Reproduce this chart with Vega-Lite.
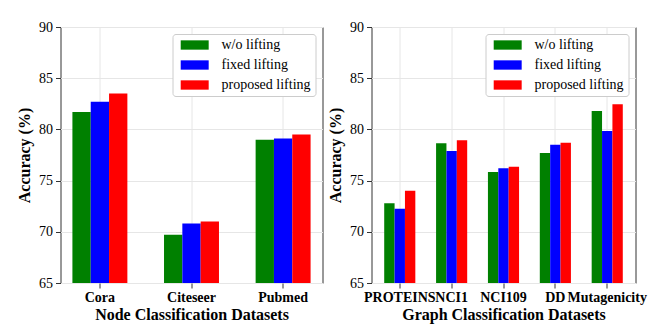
{
  "$schema": "https://vega.github.io/schema/vega-lite/v6.json",
  "padding": {"left": 15.5, "top": 19, "right": 5, "bottom": 5},
  "spacing": 3,
  "datasets": {
    "node": [
      {"dataset": "Cora", "method": "w/o lifting", "accuracy": 81.7},
      {"dataset": "Cora", "method": "fixed lifting", "accuracy": 82.7},
      {"dataset": "Cora", "method": "proposed lifting", "accuracy": 83.5},
      {"dataset": "Citeseer", "method": "w/o lifting", "accuracy": 69.7},
      {"dataset": "Citeseer", "method": "fixed lifting", "accuracy": 70.8},
      {"dataset": "Citeseer", "method": "proposed lifting", "accuracy": 71.0},
      {"dataset": "Pubmed", "method": "w/o lifting", "accuracy": 79.0},
      {"dataset": "Pubmed", "method": "fixed lifting", "accuracy": 79.1},
      {"dataset": "Pubmed", "method": "proposed lifting", "accuracy": 79.5}
    ],
    "graph": [
      {"dataset": "PROTEINS", "method": "w/o lifting", "accuracy": 72.8},
      {"dataset": "PROTEINS", "method": "fixed lifting", "accuracy": 72.25},
      {"dataset": "PROTEINS", "method": "proposed lifting", "accuracy": 74.0},
      {"dataset": "NCI1", "method": "w/o lifting", "accuracy": 78.65},
      {"dataset": "NCI1", "method": "fixed lifting", "accuracy": 77.9},
      {"dataset": "NCI1", "method": "proposed lifting", "accuracy": 78.95},
      {"dataset": "NCI109", "method": "w/o lifting", "accuracy": 75.85},
      {"dataset": "NCI109", "method": "fixed lifting", "accuracy": 76.2},
      {"dataset": "NCI109", "method": "proposed lifting", "accuracy": 76.35},
      {"dataset": "DD", "method": "w/o lifting", "accuracy": 77.7},
      {"dataset": "DD", "method": "fixed lifting", "accuracy": 78.5},
      {"dataset": "DD", "method": "proposed lifting", "accuracy": 78.7},
      {"dataset": "Mutagenicity", "method": "w/o lifting", "accuracy": 81.8},
      {"dataset": "Mutagenicity", "method": "fixed lifting", "accuracy": 79.85},
      {"dataset": "Mutagenicity", "method": "proposed lifting", "accuracy": 82.45}
    ]
  },
  "config": {
    "font": "Liberation Serif",
    "view": {"stroke": "#333333", "strokeWidth": 1},
    "axis": {
      "domain": false,
      "grid": true,
      "gridColor": "#e6e6e6",
      "gridWidth": 1,
      "tickColor": "#333333",
      "tickSize": 5,
      "labelColor": "#000000",
      "titleColor": "#000000",
      "labelFont": "Liberation Serif",
      "titleFont": "Liberation Serif",
      "labelFontSize": 14,
      "titleFontSize": 16,
      "titleFontWeight": "bold"
    },
    "legend": {
      "orient": "top-right",
      "offset": 7,
      "title": null,
      "labelFont": "Liberation Serif",
      "labelFontSize": 14,
      "labelColor": "#000000",
      "fillColor": "#ffffff",
      "strokeColor": "#cccccc",
      "cornerRadius": 3,
      "padding": 4,
      "rowPadding": 6,
      "symbolType": "M-0.6,-1H5.4V1H-0.6Z",
      "symbolSize": 87,
      "symbolStrokeWidth": 0,
      "symbolOpacity": 1,
      "labelOffset": 31
    }
  },
  "resolve": {"scale": {"color": "independent", "xOffset": "independent", "x": "independent"}},
  "hconcat": [
    {
      "data": {"name": "node"},
      "width": 262,
      "height": 256,
      "mark": {"type": "bar", "clip": true},
      "encoding": {
        "x": {
          "field": "dataset", "type": "nominal",
          "sort": ["Cora", "Citeseer", "Pubmed"],
          "scale": {"paddingInner": 0.4, "paddingOuter": 0.13},
          "axis": {"title": "Node Classification Datasets", "labelAngle": 0, "labelFontWeight": "bold", "labelPadding": 2, "titlePadding": 2, "labelOverlap": false}
        },
        "xOffset": {"field": "method", "type": "nominal", "sort": ["w/o lifting", "fixed lifting", "proposed lifting"], "scale": {"paddingInner": 0, "paddingOuter": 0}},
        "y": {
          "field": "accuracy", "type": "quantitative",
          "scale": {"domain": [65, 90], "nice": false, "zero": false},
          "axis": {"title": "Accuracy (%)", "values": [65, 70, 75, 80, 85, 90], "labelPadding": 3, "titlePadding": 6}
        },
        "color": {
          "field": "method", "type": "nominal",
          "sort": ["w/o lifting", "fixed lifting", "proposed lifting"],
          "scale": {"domain": ["w/o lifting", "fixed lifting", "proposed lifting"], "range": ["#008000", "#0000ff", "#ff0000"]}
        }
      }
    },
    {
      "data": {"name": "graph"},
      "width": 264,
      "height": 256,
      "mark": {"type": "bar", "clip": true},
      "encoding": {
        "x": {
          "field": "dataset", "type": "nominal",
          "sort": ["PROTEINS", "NCI1", "NCI109", "DD", "Mutagenicity"],
          "scale": {"paddingInner": 0.4, "paddingOuter": 0.245},
          "axis": {"title": "Graph Classification Datasets", "labelAngle": 0, "labelFontWeight": "bold", "labelPadding": 2, "titlePadding": 2, "labelOverlap": false, "labelBound": false}
        },
        "xOffset": {"field": "method", "type": "nominal", "sort": ["w/o lifting", "fixed lifting", "proposed lifting"], "scale": {"paddingInner": 0, "paddingOuter": 0}},
        "y": {
          "field": "accuracy", "type": "quantitative",
          "scale": {"domain": [65, 90], "nice": false, "zero": false},
          "axis": {"title": "Accuracy (%)", "values": [65, 70, 75, 80, 85, 90], "labelPadding": 3, "titlePadding": 6}
        },
        "color": {
          "field": "method", "type": "nominal",
          "sort": ["w/o lifting", "fixed lifting", "proposed lifting"],
          "scale": {"domain": ["w/o lifting", "fixed lifting", "proposed lifting"], "range": ["#008000", "#0000ff", "#ff0000"]}
        }
      }
    }
  ]
}
